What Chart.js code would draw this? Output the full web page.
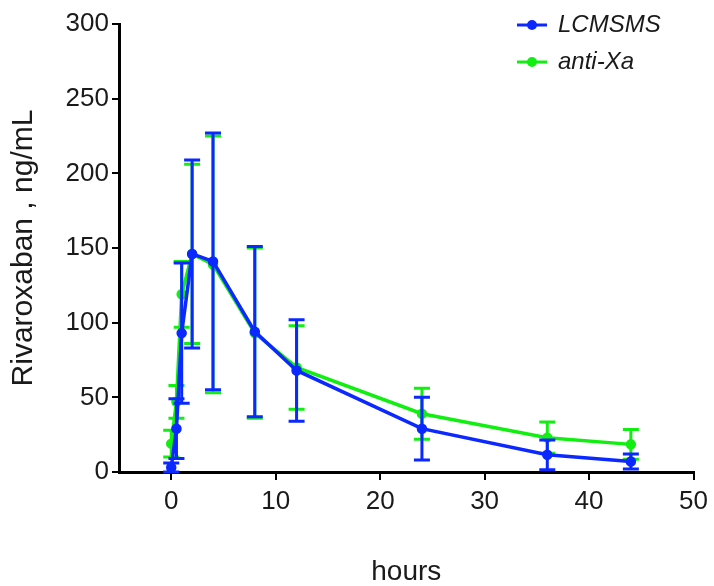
<!DOCTYPE html>
<html>
<head>
<meta charset="utf-8">
<script src="https://cdn.jsdelivr.net/npm/chart.js@4.4.1/dist/chart.umd.min.js"></script>
<style>
  html, body { margin: 0; padding: 0; background: #fff; }
  #wrap { width: 714px; height: 586px; }
</style>
</head>
<body>
<div id="wrap"><canvas id="pkChart" width="714" height="586"></canvas></div>
<script>
// sampling times (h) and mean concentrations (ng/mL) with SD
const hours = [0, 0.5, 1, 2, 4, 8, 12, 24, 36, 44];
const lcmsms = [3, 29, 93, 146, 141, 94, 68, 29, 11.5, 7];
const lcmsmsSd = [3, 20, 47, 63, 86, 57, 34, 21, 10, 5];
const antiXa = [19, 47, 119, 146, 139, 93, 70, 39, 23, 18.5];
const antiXaSd = [9, 11, 22, 60, 86, 57, 28, 17, 10.5, 10];
const xTicks = [0, 10, 20, 30, 40, 50];
const yTicks = [0, 50, 100, 150, 200, 250, 300];

const BLUE = '#0a28ff';
const GREEN = '#12ee12';
const FONT = 'Liberation Sans, Arial, sans-serif';

// vertical SD bars, drawn just before each dataset's line
const errorBars = {
  id: 'errorBars',
  beforeDatasetDraw(chart, args) {
    const ds = chart.data.datasets[args.index];
    if (!ds.errors) return;
    const y = chart.scales.y;
    const ctx = chart.ctx;
    ctx.save();
    ctx.strokeStyle = ds.borderColor;
    ctx.lineWidth = 3;
    args.meta.data.forEach((pt, i) => {
      const v = ds.data[i].y, e = ds.errors[i];
      const top = y.getPixelForValue(v + e);
      const bot = y.getPixelForValue(Math.max(v - e, 0));
      ctx.beginPath();
      ctx.moveTo(pt.x, top); ctx.lineTo(pt.x, bot);
      ctx.moveTo(pt.x - 8, top); ctx.lineTo(pt.x + 8, top);
      ctx.moveTo(pt.x - 8, bot); ctx.lineTo(pt.x + 8, bot);
      ctx.stroke();
    });
    ctx.restore();
  }
};

// legend in the top right corner
const cornerLegend = {
  id: 'cornerLegend',
  afterDraw(chart) {
    const ctx = chart.ctx;
    ctx.save();
    chart.data.datasets.forEach((ds, i) => {
      const cy = 25 + i * 37;
      ctx.strokeStyle = ds.borderColor;
      ctx.fillStyle = ds.borderColor;
      ctx.lineWidth = 3;
      ctx.beginPath();
      ctx.moveTo(517, cy); ctx.lineTo(547, cy);
      ctx.stroke();
      ctx.beginPath();
      ctx.arc(532, cy, 5, 0, Math.PI * 2);
      ctx.fill();
      ctx.fillStyle = '#1a1a1a';
      ctx.font = 'italic 24px ' + FONT;
      ctx.textBaseline = 'middle';
      ctx.fillText(ds.label, 558, cy);
    });
    ctx.restore();
  }
};

const toPoints = (vals) => hours.map((h, i) => ({ x: h, y: vals[i] }));

new Chart(document.getElementById('pkChart'), {
  type: 'line',
  data: {
    datasets: [{
      label: 'LCMSMS',
      data: toPoints(lcmsms),
      errors: lcmsmsSd,
      borderColor: BLUE,
      backgroundColor: BLUE,
      borderWidth: 3.5,
      pointRadius: 3.5,
      tension: 0
    }, {
      label: 'anti-Xa',
      data: toPoints(antiXa),
      errors: antiXaSd,
      borderColor: GREEN,
      backgroundColor: GREEN,
      borderWidth: 3.5,
      pointRadius: 3.5,
      tension: 0
    }]
  },
  options: {
    responsive: false,
    animation: false,
    layout: { padding: { top: 24, right: 16, left: 0, bottom: 0 } },
    plugins: {
      legend: { display: false },
      tooltip: { enabled: false }
    },
    scales: {
      x: {
        type: 'linear',
        min: -5,
        max: 50,
        afterBuildTicks: s => { s.ticks = xTicks.map(v => ({ value: v })); },
        afterFit: s => { s.height = 114; },
        border: { color: '#000', width: 3 },
        grid: { drawOnChartArea: false, drawTicks: true, tickLength: 8, color: '#000', lineWidth: 2 },
        ticks: { color: '#1a1a1a', font: { family: FONT, size: 26 }, padding: 6, maxRotation: 0 },
        title: {
          display: true, text: 'hours', color: '#1a1a1a',
          font: { family: FONT, size: 28, lineHeight: 1 }, padding: 0
        }
      },
      y: {
        min: 0,
        max: 300,
        afterBuildTicks: s => { s.ticks = yTicks.map(v => ({ value: v })); },
        afterFit: s => { s.width = 119; },
        border: { color: '#000', width: 3 },
        grid: { drawOnChartArea: false, drawTicks: true, tickLength: 7, color: '#000', lineWidth: 2 },
        ticks: { color: '#1a1a1a', font: { family: FONT, size: 26 }, padding: 3 },
        title: {
          display: true, text: 'Rivaroxaban , ng/mL', color: '#1a1a1a',
          font: { family: FONT, size: 30 }, padding: { top: 6, bottom: 0 }
        }
      }
    }
  },
  plugins: [errorBars, cornerLegend]
});
</script>
</body>
</html>
